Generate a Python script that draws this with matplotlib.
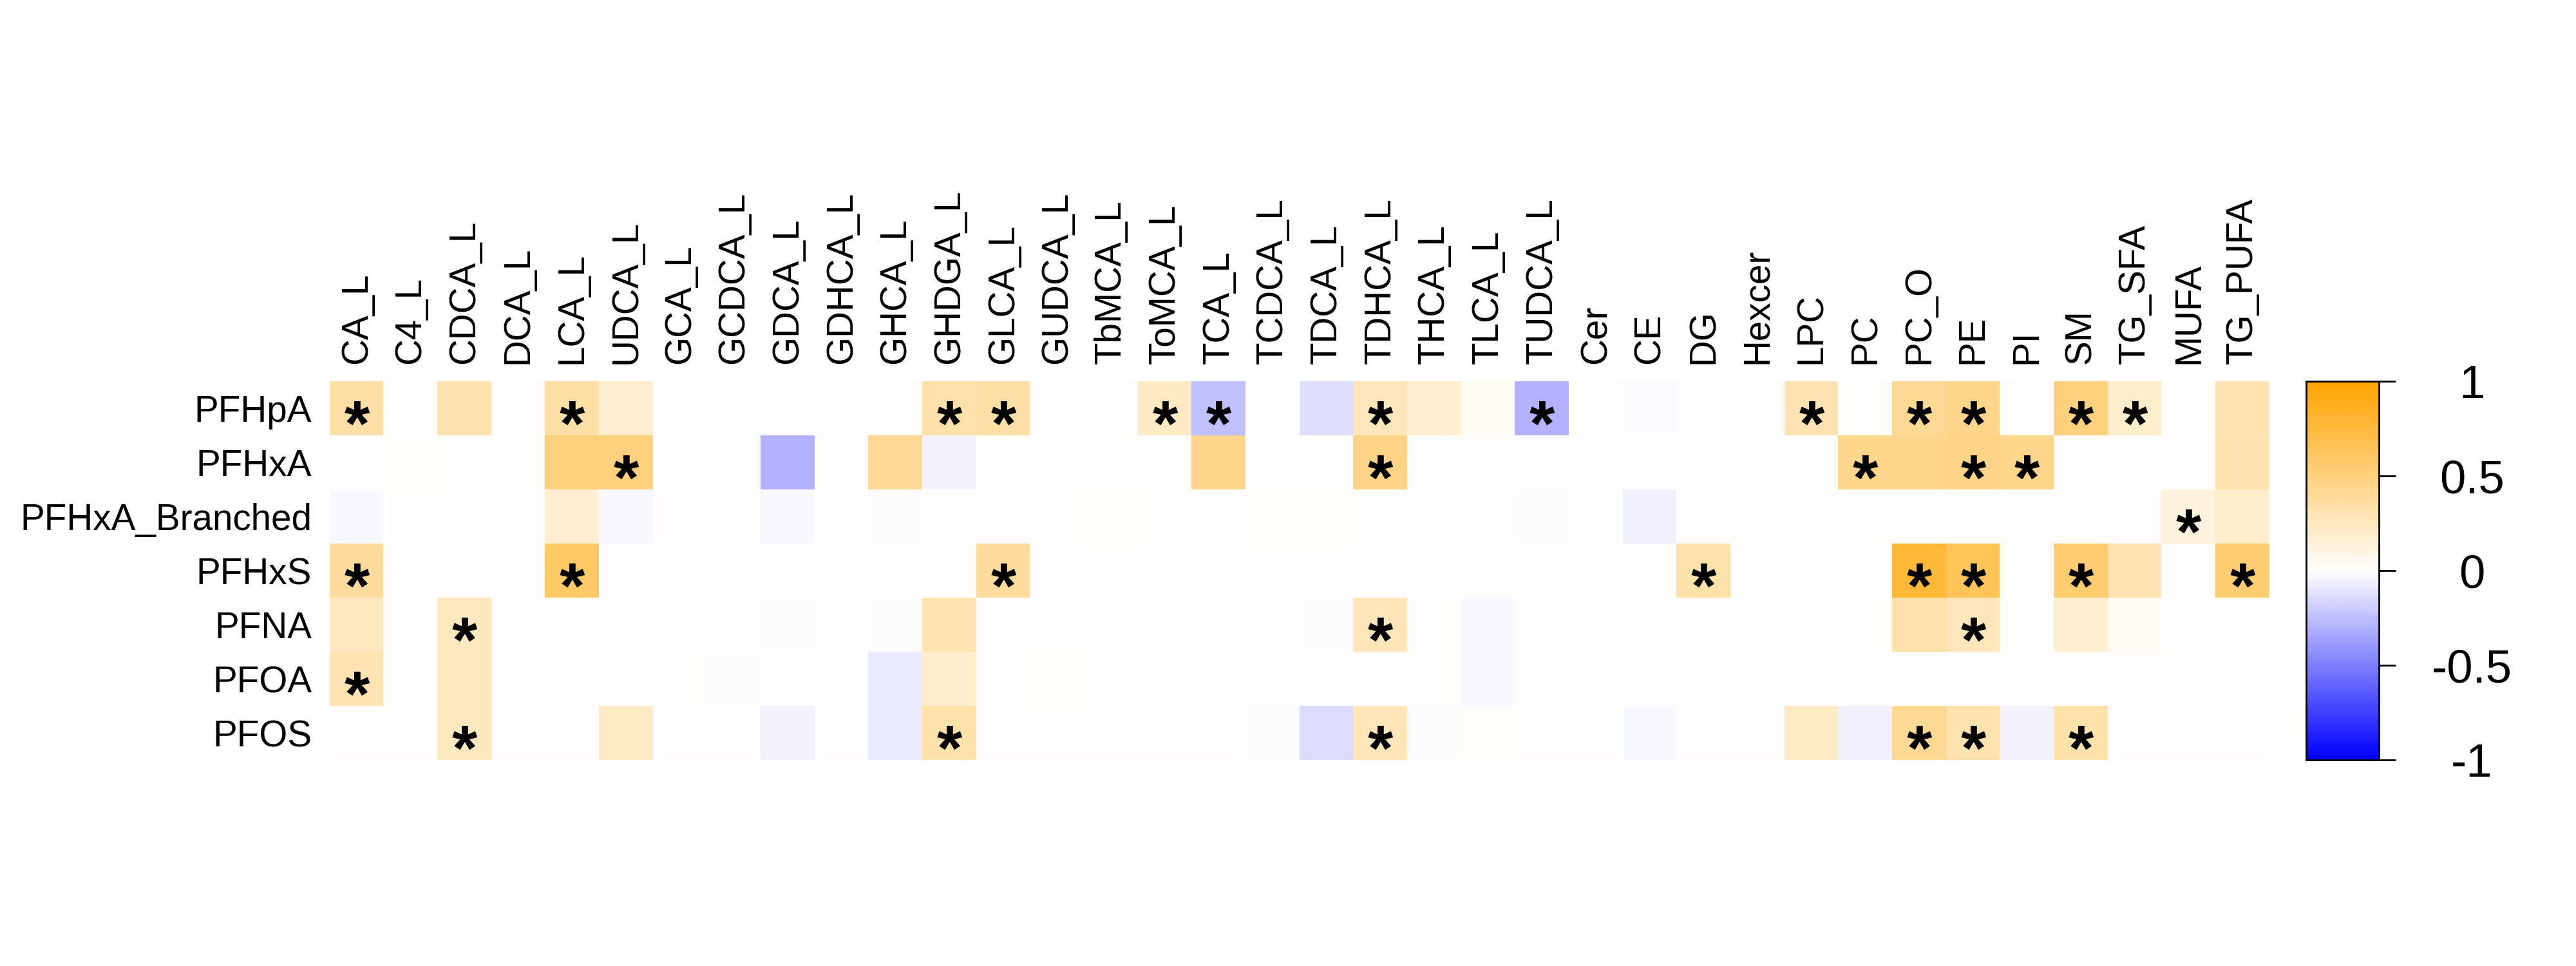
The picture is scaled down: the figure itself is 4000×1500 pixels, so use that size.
import numpy as np
import matplotlib
matplotlib.use("Agg")
import matplotlib.pyplot as plt
from matplotlib.colors import LinearSegmentedColormap
from matplotlib.transforms import offset_copy

plt.rcParams['font.family'] = ['Liberation Sans', 'DejaVu Sans']

rows = ["PFHpA", "PFHxA", "PFHxA_Branched", "PFHxS", "PFNA", "PFOA", "PFOS"]
cols = ["CA_L", "C4_L", "CDCA_L", "DCA_L", "LCA_L", "UDCA_L", "GCA_L", "GCDCA_L",
        "GDCA_L", "GDHCA_L", "GHCA_L", "GHDGA_L", "GLCA_L", "GUDCA_L", "TbMCA_L",
        "ToMCA_L", "TCA_L", "TCDCA_L", "TDCA_L", "TDHCA_L", "THCA_L", "TLCA_L",
        "TUDCA_L", "Cer", "CE", "DG", "Hexcer", "LPC", "PC", "PC_O", "PE", "PI",
        "SM", "TG_SFA", "MUFA", "TG_PUFA"]

# correlation values (rows x cols)
PFHpA = [0.35, 0.00, 0.32, 0.01, 0.35, 0.18, 0.01, 0.01, 0.01, 0.01, 0.01, 0.33,
         0.35, 0.01, 0.01, 0.23, -0.25, 0.01, -0.13, 0.27, 0.18, 0.04,
         -0.30, 0.01, -0.02, 0.01, 0.01, 0.30, 0.01, 0.42, 0.45, 0.01,
         0.50, 0.20, 0.01, 0.30]
PFHxA = [0.00, 0.02, 0.01, 0.01, 0.50, 0.50, 0.01, 0.01, -0.30, 0.01, 0.42, -0.04,
         0.01, 0.01, 0.01, 0.01, 0.45, 0.01, 0.01, 0.47, 0.01, 0.01,
         0.01, 0.01, 0.01, 0.01, 0.01, 0.01, 0.45, 0.45, 0.47, 0.45,
         0.01, 0.01, 0.01, 0.32]
PFHxA_Branched = [-0.03, 0.01, 0.01, 0.01, 0.18, -0.03, 0.01, 0.01, -0.03, 0.01, -0.01, 0.01,
                  0.01, 0.01, 0.02, 0.01, 0.01, 0.02, 0.02, 0.01, 0.01, 0.01,
                  -0.01, 0.01, -0.06, 0.01, 0.01, 0.01, 0.01, 0.01, 0.01, 0.01,
                  0.01, 0.01, 0.13, 0.20]
PFHxS = [0.38, 0.01, 0.01, 0.01, 0.60, 0.01, 0.01, 0.01, 0.01, 0.01, 0.01, 0.01,
         0.38, 0.01, 0.01, 0.01, 0.01, 0.01, 0.01, 0.01, 0.01, 0.01,
         0.01, 0.01, 0.01, 0.33, 0.01, 0.01, 0.01, 0.78, 0.65, 0.01,
         0.55, 0.30, 0.01, 0.55]
PFNA = [0.25, 0.01, 0.25, 0.01, 0.01, 0.01, 0.01, 0.01, -0.01, 0.01, -0.01, 0.30,
        0.01, 0.01, 0.01, 0.01, 0.01, 0.01, -0.01, 0.28, 0.01, -0.03,
        0.01, 0.01, 0.01, 0.01, 0.01, 0.01, 0.01, 0.33, 0.27, 0.01,
        0.18, 0.04, 0.01, 0.01]
PFOA = [0.30, 0.01, 0.25, 0.01, 0.01, 0.01, 0.01, -0.01, 0.01, 0.01, -0.08, 0.20,
        0.01, 0.02, 0.01, 0.01, 0.01, 0.01, 0.01, 0.01, 0.01, -0.03,
        0.01, 0.01, 0.01, 0.01, 0.01, 0.01, 0.01, 0.01, 0.01, 0.01,
        0.01, 0.01, 0.01, 0.01]
PFOS = [0.01, 0.01, 0.25, 0.01, 0.01, 0.22, 0.01, 0.01, -0.05, 0.01, -0.08, 0.33,
        0.01, 0.01, 0.01, 0.01, 0.01, -0.01, -0.14, 0.28, -0.01, 0.02,
        0.01, 0.01, -0.03, 0.01, 0.01, 0.22, -0.06, 0.42, 0.32, -0.05,
        0.33, 0.01, 0.01, 0.01]

# significance flags (1 = star)
sig_PFHpA = [1,0,0,0,1,0,0,0,0,0,0,1,1,0,0,1,1,0,0,1,0,0,1,0,0,0,0,1,0,1,1,0,1,1,0,0]
sig_PFHxA = [0,0,0,0,0,1,0,0,0,0,0,0,0,0,0,0,0,0,0,1,0,0,0,0,0,0,0,0,1,0,1,1,0,0,0,0]
sig_PFHxA_Branched = [0]*34 + [1, 0]
sig_PFHxS = [1,0,0,0,1,0,0,0,0,0,0,0,1,0,0,0,0,0,0,0,0,0,0,0,0,1,0,0,0,1,1,0,1,0,0,1]
sig_PFNA = [0,0,1,0,0,0,0,0,0,0,0,0,0,0,0,0,0,0,0,1,0,0,0,0,0,0,0,0,0,0,1,0,0,0,0,0]
sig_PFOA = [1] + [0]*35
sig_PFOS = [0,0,1,0,0,0,0,0,0,0,0,1,0,0,0,0,0,0,0,1,0,0,0,0,0,0,0,0,0,1,1,0,1,0,0,0]

values = np.array([PFHpA, PFHxA, PFHxA_Branched, PFHxS, PFNA, PFOA, PFOS])
sig = np.array([sig_PFHpA, sig_PFHxA, sig_PFHxA_Branched, sig_PFHxS, sig_PFNA, sig_PFOA, sig_PFOS])

cbar_ticks = [1, 0.5, 0, -0.5, -1]
cbar_labels = ["1", "0.5", "0", "-0.5", "-1"]

cmap = LinearSegmentedColormap.from_list("bwo", ["#0000FF", "#FFFFFF", "#FFA500"], N=256)

fig = plt.figure(figsize=(16, 6), dpi=250)
ax = fig.add_axes([0.128, 0.2133, 0.753, 0.392])
ax.imshow(values, cmap=cmap, vmin=-1, vmax=1, aspect='auto', interpolation='nearest')
ax.set_xlim(-0.5, len(cols) - 0.5)
ax.set_ylim(len(rows) - 0.5, -0.5)
for s in ax.spines.values():
    s.set_visible(False)
ax.xaxis.tick_top()
ax.set_xticks(np.arange(len(cols)))
ax.set_xticklabels(cols, rotation=90, fontsize=16.3)
ax.set_yticks(np.arange(len(rows)))
ax.set_yticklabels(rows, fontsize=16.3)
ax.tick_params(axis='x', length=0, pad=7.8)
ax.tick_params(axis='y', length=0, pad=8)

star_fs = 29
trans = offset_copy(ax.transData, fig=fig, y=-(0.55 * star_fs + 0.6), units='points')
for i in range(len(rows)):
    for j in range(len(cols)):
        if sig[i, j]:
            ax.text(j, i, "*", ha='center', va='baseline', fontsize=star_fs,
                    fontweight='bold', color='black', transform=trans)

cax = fig.add_axes([0.8953, 0.2133, 0.0283, 0.392])
grad = np.linspace(1, -1, 400).reshape(-1, 1)
cax.imshow(grad, cmap=cmap, vmin=-1, vmax=1, aspect='auto',
           extent=[0, 1, -1, 1], interpolation='bilinear')
cax.set_xlim(0, 1)
cax.set_ylim(-1, 1)
cax.set_xticks([])
cax.yaxis.tick_right()
cax.set_yticks(cbar_ticks)
cax.set_yticklabels(cbar_labels, fontsize=20.9)
cax.tick_params(axis='y', length=7.5, width=0.8, pad=34)
for lab in cax.get_yticklabels():
    lab.set_ha('center')
for s in cax.spines.values():
    s.set_linewidth(0.8)
    s.set_color('black')

fig.savefig("out.png", dpi=250, facecolor='white')
